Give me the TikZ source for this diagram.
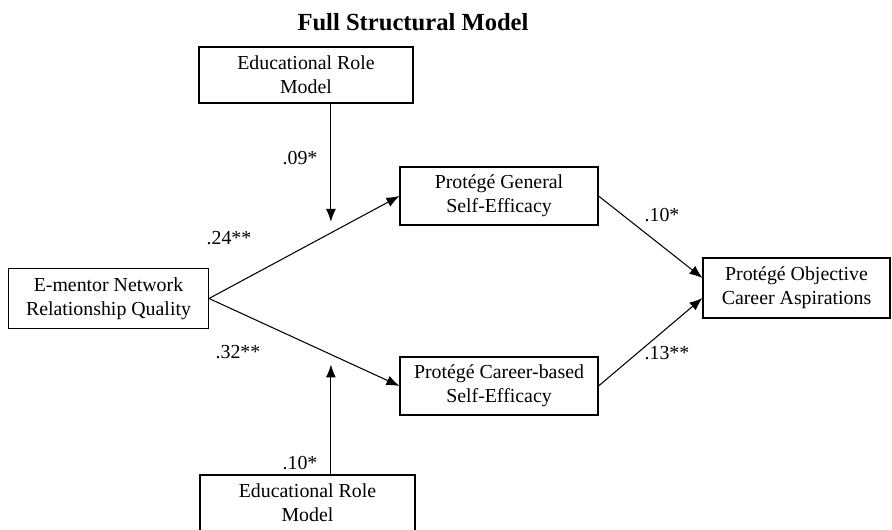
\documentclass[tikz,border=0pt]{standalone}
\usepackage{fontspec}
\setmainfont{Liberation Serif}
\usepackage{tikz}
\usetikzlibrary{arrows.meta, positioning, calc}

\begin{document}
\begin{tikzpicture}[
  var/.style={
    rectangle, draw=black, fill=white, align=center,
    inner sep=2pt, line width=0.6pt,
    font=\fontsize{11.3}{13.6}\selectfont
  },
  coef/.style={font=\fontsize{11.3}{13.6}\selectfont},
  arr/.style={-{Latex[length=2.6mm, width=2mm]}, draw=black, line width=0.6pt}
]

% ── Marco ─────────────────────────────────────────────────────
\useasboundingbox (0, 0) rectangle (17.84, 10.6);

% ── Título ────────────────────────────────────────────────────
\node[font=\fontsize{14}{16}\selectfont\bfseries] (title) at (8.26, 10.16)
  {Full Structural Model};

% ── Nodos ─────────────────────────────────────────────────────
\node[var, minimum width=4.28cm, minimum height=1.12cm] (ermA) at (6.12, 9.1)
  {Educational Role\\Model};
\node[var, minimum width=4.0cm, minimum height=1.2cm] (emq) at (2.17, 4.63)
  {E-mentor Network\\Relationship Quality};
\node[var, minimum width=3.96cm, minimum height=1.16cm] (gse) at (9.98, 6.68)
  {Protégé General\\Self-Efficacy};
\node[var, minimum width=3.96cm, minimum height=1.16cm] (cse) at (9.98, 2.88)
  {Protégé Career-based\\Self-Efficacy};
\node[var, minimum width=3.74cm, minimum height=1.2cm] (oca) at (15.93, 4.84)
  {Protégé Objective\\Career Aspirations};
\node[var, minimum width=4.3cm, minimum height=1.12cm] (ermB) at (6.15, 0.54)
  {Educational Role\\Model};

% ── Flechas ───────────────────────────────────────────────────

% E-mentor → autoeficacia
\draw[arr] (emq.east) -- (gse.west);
\draw[arr] (emq.east) -- (cse.west);

% autoeficacia → aspiraciones
\draw[arr] (gse.east) -- ($(oca.west)+(0,0.2)$);
\draw[arr] (cse.east) -- ($(oca.west)+(0,-0.2)$);

% moderadores (terminan junto a las líneas)
\coordinate (mA) at ($(emq.east)!0.64!(gse.west)+(0,0.22)$);
\coordinate (mB) at ($(emq.east)!0.64!(cse.west)+(0,-0.2)$);
\draw[arr] (ermA.south -| mA) -- (mA);
\draw[arr] (ermB.north -| mB) -- (mB);

% ── Coeficientes ──────────────────────────────────────────────
\node[coef] (c09) at (6.0, 7.44)  {.09*};
\node[coef] (c24) at (4.58, 5.84) {.24**};
\node[coef] (c32) at (4.76, 3.56) {.32**};
\node[coef] (c10a) at (13.24, 6.3) {.10*};
\node[coef] (c13) at (13.34, 3.54) {.13**};
\node[coef] (c10b) at (6.0, 1.34) {.10*};

\end{tikzpicture}
\end{document}
